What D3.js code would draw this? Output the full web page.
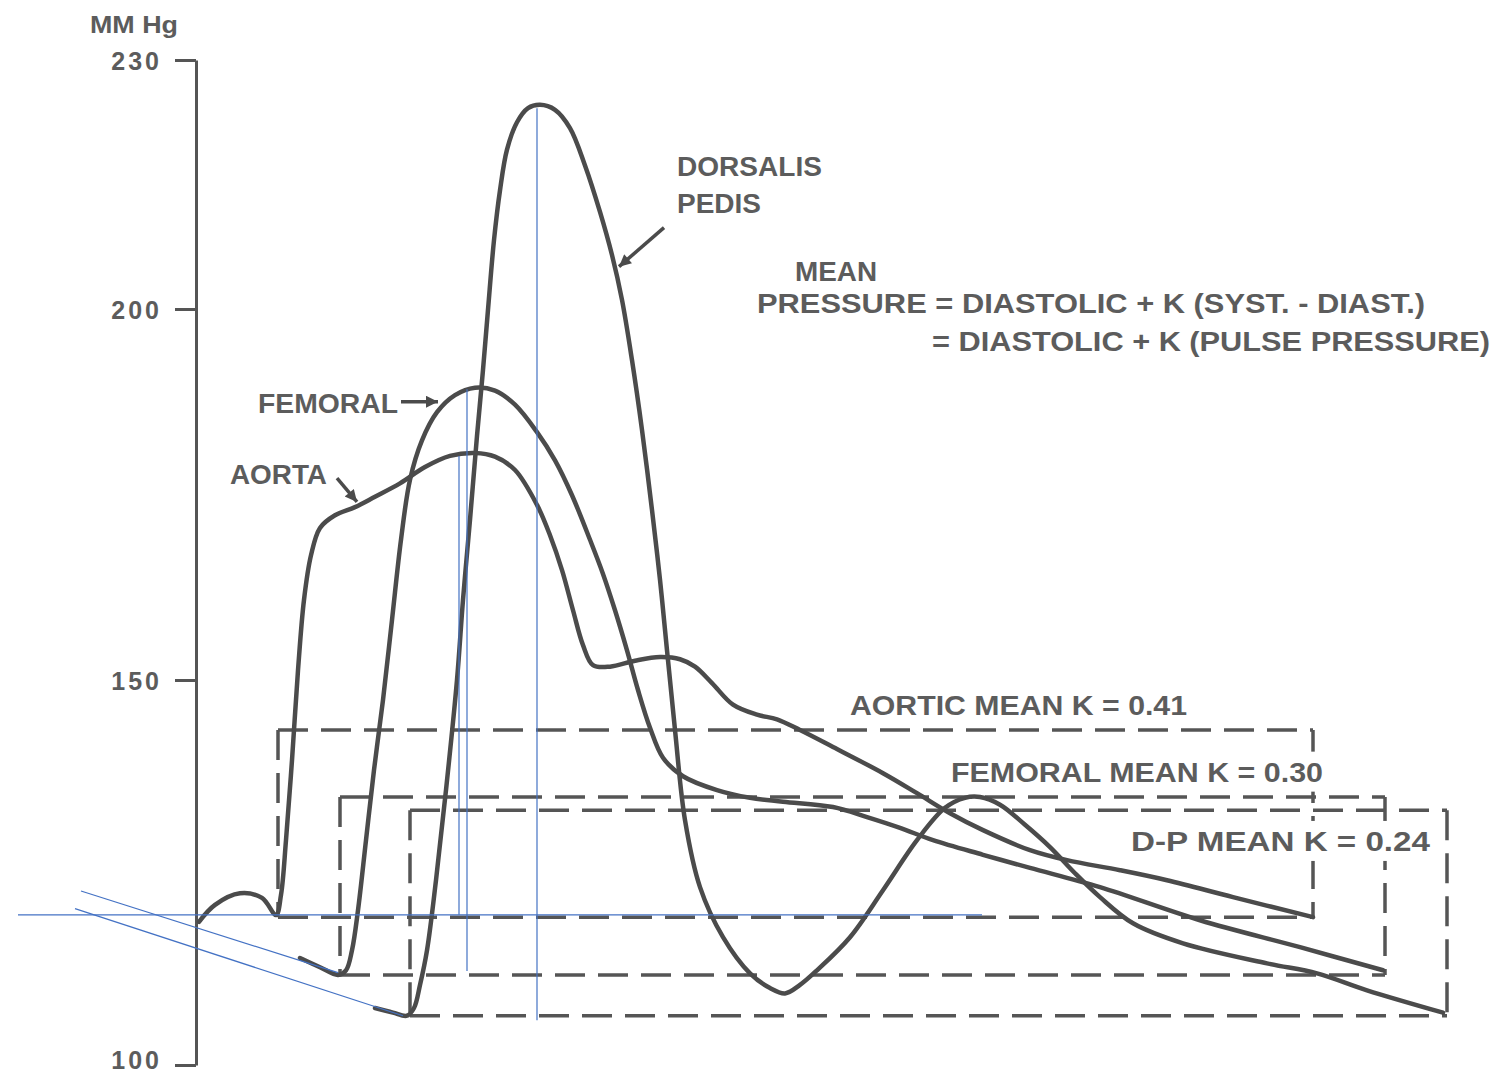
<!DOCTYPE html>
<html><head><meta charset="utf-8">
<script src="https://cdn.jsdelivr.net/npm/d3@7"></script>
<style>
html,body{margin:0;padding:0;background:#fff;overflow:hidden}
text{font-family:"Liberation Sans",Arial,sans-serif;font-weight:bold;fill:#5c5c5c}
</style>
</head><body>
<svg id="c" width="1510" height="1078"></svg>
<script>
// ---------------- DATA ----------------
const yTickValues = [100, 150, 200, 230];
const yTickLabels = ["100", "150", "200", "230"];
const yUnit = "MM Hg";

// time (arbitrary ms-like units from the axis) and pressure (mm Hg)
const aortaTime = [2.4,15.2,35.2,52.8,64,68,72,76.8,81.6,86.4,92,99.2,111.2,127.2,143.2,163.2,183.2,203.2,223.2,239.2,255.2,272.8,283.2,292.8,301.6,309.6,317.6,331.2,351.2,371.2,387.2,399.2,412.8,429.6,448.8,464.8,483.2,509.6,549.6,576.8,603.2,629.6,667.2,696.8,739.2,776.8,829.6,893.6];
const aortaPressure = [118.6,120.8,122.3,121.7,119.5,122.1,129.2,139.6,151.3,160.8,166.8,170.5,172.2,173.3,174.7,176.5,178.7,180.2,180.6,180.1,178.3,173.6,169.5,164.8,159.4,154.7,152.0,151.8,152.6,153.1,152.8,151.8,149.6,146.8,145.5,144.9,143.5,141.3,137.9,135.3,132.7,130.5,127.9,126.6,125.3,124.0,121.8,119.2];

const femoralTime = [83.2,99.2,113.6,120,124.8,129.6,136,142.4,149.6,156.8,164,171.2,180.8,192.8,207.2,223.2,239.2,255.2,272.8,287.2,300.8,315.2,325.6,335.2,344.8,353.6,363.2,373.6,389.6,416.8,443.2,469.6,509.6,536.8,563.2,589.6,629.6,667.2,723.2,803.2,883.2,949.6];
const femoralPressure = [113.9,112.7,111.7,112.3,114.9,120.1,129.2,138.3,147.4,158.1,168.9,177.0,182.3,186.1,188.4,189.4,189.0,187.1,183.4,179.6,174.9,168.9,164.3,159.4,154.0,148.7,143.8,139.9,137.5,135.7,134.7,134.2,133.5,132.2,130.8,129.2,127.3,125.6,123.1,118.8,115.3,112.3];

const dpTime = [143.2,157.6,168.8,174.4,179.2,184.8,192,200,208.8,213.6,219.2,224.8,229.6,233.6,238.4,243.2,248.8,256.8,265.6,275.2,287.2,299.2,311.2,323.2,332.8,340.8,348.8,356.8,364.8,371.2,376.8,383.2,391.2,403.2,421.6,443.2,459.2,471.2,483.2,496.8,523.2,549.6,576.8,599.2,615.2,627.2,643.2,663.2,683.2,703.2,723.2,749.6,789.6,856.8,896.8,936.8,997.6];
const dpPressure = [107.4,106.8,106.4,107.4,110.4,114.9,124.0,135.7,150.0,160.8,171.6,182.9,191.8,199.9,208.3,214.3,219.2,222.5,224.2,224.6,224.0,221.8,217.3,211.7,206.5,201.1,193.1,183.7,172.9,163.5,154.0,143.5,131.8,123.1,116.6,111.9,110.0,109.3,110.4,112.3,116.6,122.7,129.2,133.4,134.7,134.8,133.8,131.2,128.3,124.9,121.8,118.4,115.8,113.2,111.9,109.7,106.8];

// mean-pressure boxes
const meanNames = ["AORTIC MEAN  K = 0.41", "FEMORAL MEAN  K = 0.30", "D-P MEAN  K = 0.24"];
const meanK = [0.41, 0.30, 0.24];
const meanPressure = [143.5, 134.8, 133.1];
const diastolicPressure = [119.2, 111.7, 106.4];
const boxStartTime = [65.6, 115.2, 171.2];
const boxEndTime = [893.6, 951.2, 1000.8];

// blue reference lines drawn over the figure: [t1, p1, t2, p2]
const guideLines = [
  [-142.4, 119.5, 628.8, 119.5],
  [210.4, 180.2, 210.4, 119.5],
  [216.8, 189.2, 216.8, 112.2],
  [272.8, 224.2, 272.8, 105.8],
  [-92.0, 122.6, 113.6, 112.0],
  [-96.8, 120.3, 165.6, 106.4]
];

// ---------------- LAYOUT ----------------
const svg = d3.select("#c");
svg.append("rect").attr("width", 1510).attr("height", 1078).attr("fill", "#fff");

const x = d3.scaleLinear().domain([0, 1000]).range([196, 1446]);
const y = d3.scaleLinear().domain([100, 150, 200, 230]).range([1065, 680, 309, 60]);

const ink = "#4b4b4b";

// axis
const axis = d3.axisLeft(y)
  .tickValues(yTickValues)
  .tickFormat((d, i) => yTickLabels[i])
  .tickSize(21).tickSizeOuter(0).tickPadding(13);
const ax = svg.append("g").attr("transform", `translate(${x(0)},0)`).call(axis);
ax.select(".domain").attr("stroke", "#555").attr("stroke-width", 3);
ax.selectAll(".tick line").attr("stroke", "#555").attr("stroke-width", 3);
ax.selectAll(".tick text")
  .attr("font-size", 25).attr("font-family", "Liberation Sans, Arial, sans-serif")
  .attr("font-weight", "bold").attr("fill", "#5c5c5c").attr("letter-spacing", 3)
  .attr("dy", d => d === 100 ? "0.14em" : "0.36em");

svg.append("text").attr("x", x(0) - 106).attr("y", y(230) - 27)
  .attr("font-size", 23).attr("textLength", 88).attr("lengthAdjust", "spacingAndGlyphs")
  .text(yUnit);

// mean boxes (dashed)
const boxes = svg.append("g").attr("fill", "none").attr("stroke", "#555")
  .attr("stroke-width", 3.5).attr("stroke-dasharray", "30,13");
meanNames.forEach((n, i) => {
  const x0 = x(boxStartTime[i]), x1 = x(boxEndTime[i]);
  const yt = y(meanPressure[i]), yb = y(diastolicPressure[i]);
  boxes.append("path").attr("d", `M${x0},${yt}H${x1}`);
  boxes.append("path").attr("d", `M${x1},${yt}V${yb}`);
  boxes.append("path").attr("d", `M${x0},${yb}H${x1}`);
  boxes.append("path").attr("d", `M${x0},${yt}V${yb}`);
});

// curves
const line = d3.line().x(d => x(d[0])).y(d => y(d[1])).curve(d3.curveCatmullRom.alpha(0.5));
const series = [
  [aortaTime, aortaPressure],
  [femoralTime, femoralPressure],
  [dpTime, dpPressure]
];
series.forEach(([t, p]) => {
  svg.append("path").datum(t.map((v, i) => [v, p[i]]))
    .attr("d", line).attr("fill", "none").attr("stroke", ink)
    .attr("stroke-width", 4.5).attr("stroke-linejoin", "round").attr("stroke-linecap", "round");
});

// labels
const notes = [
  {text: "DORSALIS", t: 384.8, p: 216.0, w: 145},
  {text: "PEDIS", t: 384.8, p: 211.6, w: 84},
  {text: "MEAN", t: 479.2, p: 203.4, w: 82},
  {text: "PRESSURE = DIASTOLIC + K (SYST. - DIAST.)", t: 448.8, p: 199.5, w: 668},
  {text: "= DIASTOLIC + K (PULSE PRESSURE)", t: 588.8, p: 194.3, w: 558},
  {text: "FEMORAL", t: 49.6, p: 186.0, w: 140},
  {text: "AORTA", t: 27.2, p: 176.4, w: 97}
];
notes.forEach(n => {
  svg.append("text").attr("x", x(n.t)).attr("y", y(n.p))
    .attr("font-size", 27).attr("textLength", n.w).attr("lengthAdjust", "spacingAndGlyphs")
    .text(n.text);
});

// mean labels with white backing
const meanLabelPos = [[523.2, 145.5, 337], [604, 136.8, 372], [748, 127.8, 299]];
meanNames.forEach((n, i) => {
  const [t, p, w] = meanLabelPos[i];
  const lx = x(t), ly = y(p);
  if (i > 0) svg.append("rect").attr("x", lx - 6).attr("y", ly - 30).attr("width", w + 12).attr("height", 40).attr("fill", "#fff");
  svg.append("text").attr("x", lx).attr("y", ly)
    .attr("font-size", 27).attr("textLength", w).attr("lengthAdjust", "spacingAndGlyphs")
    .text(n);
});

// arrows
const defs = svg.append("defs");
defs.append("marker").attr("id", "ah").attr("viewBox", "0 0 10 10")
  .attr("refX", 10).attr("refY", 5).attr("markerWidth", 16).attr("markerHeight", 12)
  .attr("markerUnits", "userSpaceOnUse").attr("orient", "auto")
  .append("path").attr("d", "M0,0L10,5L0,10z").attr("fill", ink);
const arrows = [
  [374.4, 209.8, 338.4, 205.1],
  [164.0, 187.5, 193.6, 187.5],
  [112.8, 177.2, 128.8, 174.0]
];
arrows.forEach(a => {
  svg.append("line").attr("x1", x(a[0])).attr("y1", y(a[1])).attr("x2", x(a[2])).attr("y2", y(a[3]))
    .attr("stroke", ink).attr("stroke-width", 3.5).attr("marker-end", "url(#ah)");
});

// blue guide lines
guideLines.forEach(g => {
  svg.append("line").attr("x1", x(g[0])).attr("y1", y(g[1])).attr("x2", x(g[2])).attr("y2", y(g[3]))
    .attr("stroke", "#4472c4").attr("stroke-width", 1.2);
});
</script>
</body></html>
